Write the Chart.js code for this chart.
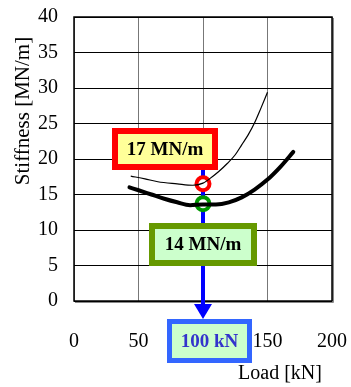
<!DOCTYPE html>
<html>
<head>
<meta charset="utf-8">
<script src="https://cdn.jsdelivr.net/npm/chart.js@4/dist/chart.umd.min.js"></script>
<style>
  html, body { margin: 0; padding: 0; background: #fff; }
  #wrap { width: 351px; height: 387px; }
</style>
</head>
<body>
<div id="wrap"><canvas id="canvas"></canvas></div>
<script>
// load [kN] vs stiffness [MN/m]
var thinLoad = [44, 55, 65, 80, 92, 100, 105, 112, 119, 125, 130, 135, 140, 145, 150];
var thinStiff = [17.6, 17.2, 16.8, 16.5, 16.3, 16.6, 17.2, 18.2, 19.4, 20.6, 22.0, 23.4, 25.1, 27.2, 29.4];
var thickLoad = [43, 50, 60, 70, 80, 90, 100, 110, 120, 130, 140, 150, 160, 170];
var thickStiff = [16.0, 15.6, 15.0, 14.4, 13.9, 13.5, 13.6, 13.6, 13.9, 14.6, 15.7, 17.1, 18.9, 21.0];
var markLoad = 100;
var markThin = 16.5;
var markThick = 13.7;
var xTicks = [0, 50, 100, 150, 200];
var yTicks = [0, 5, 10, 15, 20, 25, 30, 35, 40];
var labels = ["17 MN/m", "14 MN/m", "100 kN"];

function pts(xs, ys) {
  return xs.map(function(x, i) { return { x: x, y: ys[i] }; });
}

var serif = "'Liberation Serif', 'Times New Roman', serif";

function box(ctx, x0, y0, x1, y1, bw, edge, fill, text, color) {
  ctx.save();
  ctx.fillStyle = edge;
  ctx.fillRect(x0, y0, x1 - x0, y1 - y0);
  ctx.fillStyle = fill;
  ctx.fillRect(x0 + bw, y0 + bw, x1 - x0 - 2 * bw, y1 - y0 - 2 * bw);
  ctx.fillStyle = color;
  ctx.font = "bold 19px " + serif;
  ctx.textAlign = "center";
  ctx.textBaseline = "middle";
  ctx.fillText(text, (x0 + x1) / 2, (y0 + y1) / 2 + 1);
  ctx.restore();
}

function noPad(s) {
  s.paddingLeft = 0;
  s.paddingRight = 0;
  s.paddingTop = 0;
  s.paddingBottom = 0;
}

var extras = {
  id: "extras",
  beforeDatasetsDraw: function(chart) {
    var ctx = chart.ctx;
    var px = chart.scales.x.getPixelForValue(markLoad);
    ctx.save();
    // frame
    var a = chart.chartArea;
    ctx.strokeStyle = "#888";
    ctx.lineWidth = 1;
    ctx.beginPath();
    ctx.moveTo(a.right + 1.5, a.top + 1);
    ctx.lineTo(a.right + 1.5, a.bottom + 1.5);
    ctx.lineTo(a.left + 1, a.bottom + 1.5);
    ctx.stroke();
    ctx.strokeStyle = "#000";
    ctx.lineWidth = 1.5;
    ctx.strokeRect(a.left, a.top, a.right - a.left, a.bottom - a.top);
    // blue arrow
    ctx.strokeStyle = "#0000ff";
    ctx.fillStyle = "#0000ff";
    ctx.lineWidth = 4;
    ctx.beginPath();
    ctx.moveTo(px, 168);
    ctx.lineTo(px, 306);
    ctx.stroke();
    ctx.beginPath();
    ctx.moveTo(px - 9, 304);
    ctx.lineTo(px + 9, 304);
    ctx.lineTo(px, 319);
    ctx.closePath();
    ctx.fill();
    ctx.restore();
  },
  afterDatasetsDraw: function(chart) {
    var ctx = chart.ctx;
    box(ctx, 112, 128, 218, 170, 6, "#ff0000", "#ffff99", labels[0], "#000");
    box(ctx, 149, 223, 257, 266, 6, "#669900", "#ccffcc", labels[1], "#000");
    box(ctx, 167, 319, 252, 363, 5, "#3366ff", "#ccffcc", labels[2], "#3333cc");
    ctx.save();
    ctx.fillStyle = "#000";
    ctx.font = "20px " + serif;
    ctx.textAlign = "center";
    ctx.textBaseline = "middle";
    ctx.fillText("Load [kN]", 280, 374);
    ctx.translate(23, 111);
    ctx.rotate(-Math.PI / 2);
    ctx.font = "21px " + serif;
    ctx.fillText("Stiffness [MN/m]", 0, 0);
    ctx.restore();
  }
};

var ctx = document.getElementById("canvas").getContext("2d");
new Chart(ctx, {
  type: "scatter",
  data: {
    datasets: [{
      data: pts(thinLoad, thinStiff),
      showLine: true,
      borderColor: "#000",
      borderWidth: 1.2,
      pointRadius: 0,
      tension: 0.4,
      cubicInterpolationMode: "monotone"
    }, {
      data: pts(thickLoad, thickStiff),
      showLine: true,
      borderColor: "#000",
      borderWidth: 4,
      pointRadius: 0,
      borderCapStyle: "round",
      tension: 0.4,
      cubicInterpolationMode: "monotone"
    }, {
      data: [{ x: markLoad, y: markThin }],
      pointRadius: 6.5,
      borderWidth: 4,
      borderColor: "#ff0000",
      backgroundColor: "#fff"
    }, {
      data: [{ x: markLoad, y: markThick }],
      pointRadius: 6.5,
      borderWidth: 4,
      borderColor: "#009900",
      backgroundColor: "#fff"
    }]
  },
  options: {
    responsive: true,
    maintainAspectRatio: false,
    animation: false,
    layout: { padding: { top: 17, right: 19, left: 0, bottom: 0 } },
    plugins: { legend: { display: false }, tooltip: { enabled: false } },
    scales: {
      x: {
        type: "linear",
        min: 0,
        max: 200,
        afterFit: function(s) { s.height = 86; noPad(s); },
        afterBuildTicks: function(s) { s.ticks = xTicks.map(function(v) { return { value: v }; }); },
        grid: { color: "#777", lineWidth: 1, drawTicks: false },
        border: { display: false },
        ticks: { padding: 29, color: "#000", font: { family: serif, size: 20 } }
      },
      y: {
        min: 0,
        max: 40,
        afterFit: function(s) { s.width = 74; noPad(s); },
        afterBuildTicks: function(s) { s.ticks = yTicks.map(function(v) { return { value: v }; }); },
        grid: { color: "#000", lineWidth: 1, drawTicks: false },
        border: { display: false },
        ticks: { padding: 16, color: "#000", font: { family: serif, size: 20 } }
      }
    }
  },
  plugins: [extras]
});
</script>
</body>
</html>
